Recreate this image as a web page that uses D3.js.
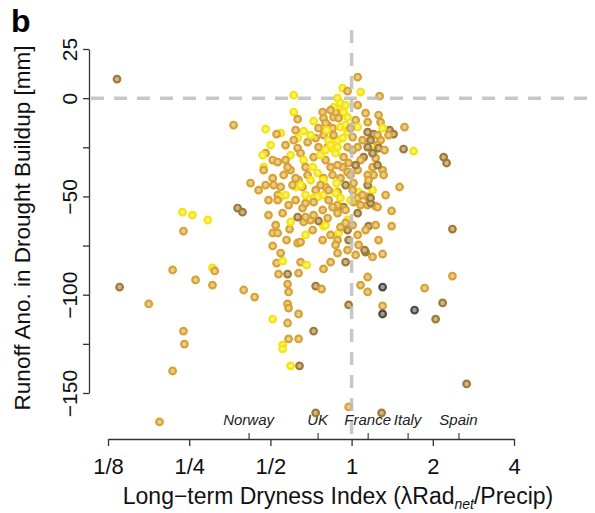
<!DOCTYPE html>
<html>
<head>
<meta charset="utf-8">
<script src="https://d3js.org/d3.v7.min.js"></script>
<style>
  body { margin: 0; background: #fff; }
  svg { font-family: "Liberation Sans", Arial, sans-serif; }
</style>
</head>
<body>
<div id="chart"></div>
<script>
// long-term dryness index (x) per catchment
var dryIndex = [
  0.135, 0.138, 0.177, 0.194, 0.217, 0.217, 0.236, 0.257, 0.293, 0.238,
  0.264, 0.305, 0.311, 0.305, 0.238, 0.240, 0.365, 0.378, 0.394, 0.398,
  0.437, 0.510, 0.510, 0.527, 0.555, 0.647, 0.681, 0.536, 0.579, 0.636,
  0.787, 0.579, 0.584, 0.736, 0.774, 0.579, 0.584, 0.636, 0.510, 0.579,
  0.723, 0.584, 0.636, 0.555, 0.555, 0.594, 0.641, 0.975, 0.975, 1.303,
  1.303, 1.303, 1.080, 1.147, 1.147, 1.127, 1.196, 1.303, 1.156, 0.975,
  0.887, 0.966, 0.895, 0.887, 0.787, 0.754, 0.664, 0.631, 0.574, 0.589,
  0.594, 0.555, 0.934, 1.053, 1.147, 1.228, 1.506, 2.194, 2.250, 1.407,
  1.407, 2.365, 1.117, 2.365, 1.865, 1.712, 2.175, 2.049, 2.670, 1.292,
  1.571, 1.558, 1.698, 0.736,
  0.610, 0.610, 0.631, 0.723, 1.053, 0.926, 0.966, 1.080, 0.887, 1.270,
  1.053, 0.781, 0.887, 0.934, 0.857, 1.127, 1.259, 1.281, 1.383, 1.431,
  0.480, 0.546, 0.527, 0.664, 0.620, 0.631, 0.610, 0.687, 0.736, 0.787,
  0.815, 0.850, 0.895, 0.910, 0.966, 1.035, 1.053, 1.147, 1.147, 1.207,
  1.303, 1.281, 1.248, 1.228, 1.147, 1.053, 1.108, 1.228, 1.303, 1.207,
  1.147, 1.196, 1.147, 1.017, 0.950, 0.887, 0.887, 1.176, 1.248, 1.147,
  0.966, 0.966, 1.062, 0.705, 0.675, 0.631, 0.523, 0.532, 0.647, 0.546,
  0.422, 0.480, 0.510, 0.514, 0.546, 0.532, 0.546, 0.532, 0.480, 0.468,
  0.510, 0.472, 0.532, 0.594, 0.594, 0.579, 0.631, 0.647, 0.664, 0.675,
  0.723, 0.717, 0.748, 0.687, 0.636, 0.620, 0.658, 0.736, 0.723, 0.748,
  0.787, 0.801, 0.787, 0.801, 0.836, 0.850, 0.815, 0.850, 0.872, 0.822,
  0.887, 0.926, 0.966, 1.009, 0.934, 0.975, 0.926, 0.887, 0.966, 0.910,
  0.991, 1.053, 0.872, 0.857, 0.966, 0.787, 0.801, 0.857, 0.887, 1.009,
  0.472, 1.196, 1.248, 1.196, 1.259, 1.248, 1.371, 1.314, 1.156, 1.062,
  0.723, 0.850, 0.887, 0.910, 0.872, 1.053, 0.658, 0.675, 0.723, 0.604,
  0.647, 0.620, 0.787, 0.872, 1.017, 1.053, 1.176, 1.080, 0.801, 0.815,
  0.781, 0.950, 0.910, 0.950, 0.836, 0.767, 0.705, 0.675, 0.767, 0.822,
  0.569, 0.560,
  0.836, 0.808, 0.754, 0.705, 0.950, 0.991, 1.098, 1.176, 1.325, 1.080,
  1.035, 1.009, 1.098, 0.991, 0.950, 1.009, 0.836, 0.781, 0.717, 0.675,
  0.620, 0.584, 0.569, 0.492, 0.492, 0.452, 0.569, 0.501, 0.754, 0.801,
  0.880, 0.822, 0.910, 1.127, 1.228, 1.259, 1.337, 1.035, 0.950, 0.836
];

// runoff anomaly during drought buildup [mm]
var runoffAnom = [
  9.7, -96.1, -104.7, -164.7, -87.4, -138.8, -58.0, -59.5, -62.0, -67.6,
  -92.5, -86.4, -87.9, -95.1, -118.5, -125.1, -13.7, -55.9, -58.0, -97.6,
  -101.2, -68.6, -75.2, -83.9, -82.9, -83.4, -84.9, -89.5, -89.5, -89.0,
  -86.9, -94.6, -98.6, -95.6, -97.1, -104.7, -106.8, -109.8, -112.4, -114.4,
  -118.5, -122.5, -122.5, -125.6, -127.6, -136.2, -136.2, -105.2, -157.1, -96.1,
  -105.7, -109.8, -95.1, -98.6, -91.0, -78.3, -80.8, -79.3, -65.1, -72.2,
  -78.8, -77.3, -68.6, -72.2, -65.1, -62.5, -63.0, -73.7, -72.2, -66.6,
  -63.0, -58.5, -55.4, -58.5, -54.4, -54.9, -45.2, -30.0, -33.0, -57.4,
  -65.1, -66.6, -77.3, -90.5, -96.6, -107.8, -104.2, -112.4, -145.4, -160.1,
  -14.7, -25.9, -26.9, -160.1,
  1.5, -7.1, -10.7, -11.7, 10.7, 5.1, 3.6, 3.1, 0.0, 1.0,
  -3.6, -7.1, -5.1, -7.1, -9.7, -7.6, -8.6, -12.2, -16.3, -18.3,
  -15.8, -17.8, -18.3, -16.8, -16.3, -20.3, -21.4, -22.4, -20.3, -18.8,
  -13.7, -15.3, -10.2, -14.7, -17.3, -11.2, -14.7, -12.2, -17.3, -18.3,
  -15.3, -21.4, -23.9, -25.9, -24.9, -24.9, -30.0, -30.5, -36.6, -39.1,
  -39.1, -46.8, -44.2, -43.2, -44.2, -47.8, -54.4, -53.4, -55.4, -50.3,
  -62.0, -67.1, -74.7, -62.0, -60.5, -60.5, -64.6, -68.6, -73.2, -78.8,
  -43.2, -44.2, -40.7, -44.2, -45.2, -49.3, -50.3, -51.9, -28.0, -29.0,
  -31.5, -35.1, -32.5, -29.0, -36.6, -35.1, -25.4, -28.0, -31.5, -35.1,
  -30.0, -35.1, -38.1, -39.1, -41.7, -45.2, -45.2, -46.8, -50.8, -50.3,
  -49.3, -45.2, -40.7, -31.5, -35.1, -39.1, -24.9, -25.4, -28.0, -21.4,
  -21.4, -20.3, -24.9, -26.4, -30.0, -33.0, -35.1, -34.1, -37.6, -40.7,
  -39.1, -36.6, -7.1, -4.6, -9.7, -10.2, -12.7, -18.8, -24.9, -19.8,
  -36.6, -35.1, -34.1, -28.0, -25.4, -18.8, -18.8, -39.1, -41.7, -47.8,
  -59.5, -55.4, -58.5, -65.6, -74.7, -69.6, -55.9, -53.4, -52.9, -44.2,
  -44.2, -40.7, -41.7, -48.3, -52.9, -50.8, -50.8, -54.4, -64.6, -61.0,
  -56.9, -63.5, -2.5, -3.6, -23.9, -29.0, -41.7, -49.3, -44.2, -51.9,
  -31.5, -39.1,
  -6.1, -16.3, -15.3, -18.8, -13.7, -15.3, -21.4, -21.4, -26.4, -31.5,
  -34.1, -46.8, -49.3, -51.9, -56.9, -64.6, -69.6, -72.2, -67.1, -69.6,
  -51.9, -54.4, -49.3, -51.9, -59.5, -46.8, -23.9, -23.9, -24.9, -26.4,
  -43.2, -46.8, -50.8, -67.1, -64.6, -72.2, -49.3, -79.8, -83.4, -83.4
];

// colour class of each point (0 = yellow ... 3 = dark grey)
var shadeLevel = [
  2, 2, 1, 1, 1, 1, 0, 0, 0, 1,
  1, 0, 1, 1, 1, 1, 1, 2, 2, 1,
  1, 1, 1, 1, 0, 1, 0, 1, 2, 1,
  1, 1, 1, 2, 1, 1, 1, 1, 0, 1,
  2, 1, 1, 0, 0, 0, 2, 2, 1, 3,
  1, 3, 1, 1, 1, 2, 1, 1, 2, 2,
  1, 1, 0, 1, 0, 2, 1, 1, 1, 1,
  0, 1, 2, 2, 1, 1, 1, 2, 2, 1,
  1, 2, 2, 1, 1, 3, 2, 2, 2, 2,
  1, 2, 0, 2,
  0, 0, 1, 0, 1, 0, 1, 0, 0, 1,
  1, 1, 0, 0, 1, 1, 1, 1, 2, 2,
  0, 0, 1, 0, 1, 0, 1, 1, 1, 1,
  1, 1, 1, 0, 0, 1, 0, 1, 2, 2,
  0, 1, 1, 0, 2, 1, 2, 1, 1, 1,
  1, 0, 2, 1, 2, 1, 1, 2, 1, 1,
  0, 2, 1, 1, 1, 2, 1, 1, 1, 1,
  1, 1, 1, 1, 1, 1, 0, 1, 1, 0,
  1, 0, 1, 0, 1, 1, 1, 1, 0, 1,
  1, 0, 0, 1, 1, 0, 1, 1, 0, 0,
  0, 1, 1, 1, 1, 1, 1, 0, 0, 0,
  0, 0, 1, 1, 1, 1, 1, 1, 1, 1,
  1, 1, 1, 0, 0, 1, 1, 1, 0, 1,
  1, 1, 2, 2, 2, 1, 1, 1, 1, 0,
  1, 1, 1, 1, 1, 1, 1, 1, 1, 1,
  0, 1, 0, 0, 1, 1, 2, 1, 0, 1,
  1, 1, 0, 0, 0, 0, 0, 0, 1, 1,
  1, 1,
  1, 0, 1, 0, 0, 1, 1, 2, 1, 1,
  2, 1, 1, 0, 1, 1, 1, 1, 1, 0,
  1, 1, 0, 1, 1, 1, 1, 0, 1, 0,
  0, 1, 0, 1, 1, 1, 1, 1, 2, 1
];

var xTicks = [1/8, 1/4, 1/2, 1, 2, 4];
var xTickLabels = ["1/8", "1/4", "1/2", "1", "2", "4"];
var yTicks = [25, 0, -25, -50, -75, -100, -125, -150];
var yLabelled = [25, 0, -50, -100, -150];

// dryness index of the example countries (minor ticks)
var countries = ["Norway", "UK", "France", "Italy", "Spain"];
var countryDry = [0.415, 0.748, 1.147, 1.613, 2.49];

var shadeColors = ["#f5e40c", "#d8a232", "#a07a34", "#4e4a44"];

var width = 595, height = 513;

var svg = d3.select("#chart")
    .append("svg")
    .attr("width", width)
    .attr("height", height);

var x = d3.scaleLog().base(2).domain([1/8, 4]).range([108, 514]);
var y = d3.scaleLinear().domain([-150, 25]).range([393, 49]);

var plotLeft = 89, plotTop = 30, plotBottom = 439;

// country labels
svg.selectAll(".country")
    .data(countries)
    .enter().append("text")
    .attr("class", "country")
    .attr("x", function(d, i) { return x(countryDry[i]); })
    .attr("y", 425)
    .attr("text-anchor", "middle")
    .style("font-size", "15px")
    .style("font-style", "italic")
    .style("fill", "#222")
    .text(function(d) { return d; });

// points
var pts = dryIndex.map(function(d, i) {
    return {dry: d, runoff: runoffAnom[i], shade: shadeLevel[i]};
});

svg.selectAll(".pt")
    .data(pts)
    .enter().append("circle")
    .attr("class", "pt")
    .attr("cx", function(d) { return x(d.dry); })
    .attr("cy", function(d) { return y(d.runoff); })
    .attr("r", 3.3)
    .style("fill", function(d) { return d3.interpolateRgb(shadeColors[d.shade], "#ffffff")(0.45); })
    .style("stroke", function(d) { return shadeColors[d.shade]; })
    .style("stroke-width", 2.2);

// reference lines at 0 runoff and dryness = 1 (drawn over the points)
svg.append("line")
    .attr("x1", plotLeft + 2).attr("x2", width)
    .attr("y1", y(0)).attr("y2", y(0))
    .style("stroke", "#bdbdbd")
    .style("stroke-opacity", 0.85)
    .style("stroke-width", 3.5)
    .style("stroke-dasharray", "13,10");

svg.append("line")
    .attr("x1", x(1)).attr("x2", x(1))
    .attr("y1", plotTop).attr("y2", plotBottom)
    .style("stroke", "#bdbdbd")
    .style("stroke-opacity", 0.85)
    .style("stroke-width", 3.5)
    .style("stroke-dasharray", "13,10");

// y axis
var yAxis = d3.axisLeft(y)
    .tickValues(yTicks)
    .tickSize(6)
    .tickSizeOuter(0)
    .tickFormat(function(d) {
        return yLabelled.indexOf(d) >= 0 ? d3.format("")(d) : "";
    });

var gy = svg.append("g")
    .attr("transform", "translate(" + plotLeft + ",0)")
    .call(yAxis);
gy.selectAll("path, line").style("stroke", "#333").style("stroke-width", 1.3);
gy.selectAll("text")
    .attr("transform", "translate(-12,0) rotate(-90)")
    .attr("x", 0).attr("y", 0).attr("dy", 0)
    .attr("text-anchor", "middle")
    .style("font-size", "21px")
    .style("fill", "#111");

// x axis
var xAxis = d3.axisBottom(x)
    .tickValues(xTicks)
    .tickSize(7)
    .tickSizeOuter(0)
    .tickFormat(function(d, i) { return xTickLabels[i]; });

var gx = svg.append("g")
    .attr("transform", "translate(0," + plotBottom + ")")
    .call(xAxis);
gx.selectAll("path, line").style("stroke", "#333").style("stroke-width", 1.3);
gx.selectAll("text")
    .attr("y", 35).attr("dy", 0)
    .style("font-size", "22px")
    .style("fill", "#111");

// minor ticks for the countries
var gc = svg.append("g")
    .attr("transform", "translate(0," + plotBottom + ")")
    .call(d3.axisBottom(x).tickValues(countryDry).tickSize(-6).tickFormat(""));
gc.select(".domain").remove();
gc.selectAll("line").style("stroke", "#333").style("stroke-width", 1.1);

// axis titles
svg.append("text")
    .attr("transform", "translate(30,228) rotate(-90)")
    .attr("text-anchor", "middle")
    .style("font-size", "22.5px")
    .style("fill", "#111")
    .text("Runoff Ano. in Drought Buildup [mm]");

var xt = svg.append("text")
    .attr("x", 338)
    .attr("y", 504)
    .attr("text-anchor", "middle")
    .style("font-size", "23px")
    .style("fill", "#111");
xt.append("tspan").text("Long\u2212term Dryness Index (\u03bbRad");
xt.append("tspan").attr("dy", 5).style("font-size", "14px").style("font-style", "italic").text("net");
xt.append("tspan").attr("dy", -5).text("/Precip)");

// panel letter
svg.append("text")
    .attr("x", 11)
    .attr("y", 32)
    .style("font-size", "32px")
    .style("font-weight", "bold")
    .style("fill", "#000")
    .text("b");
</script>
</body>
</html>
